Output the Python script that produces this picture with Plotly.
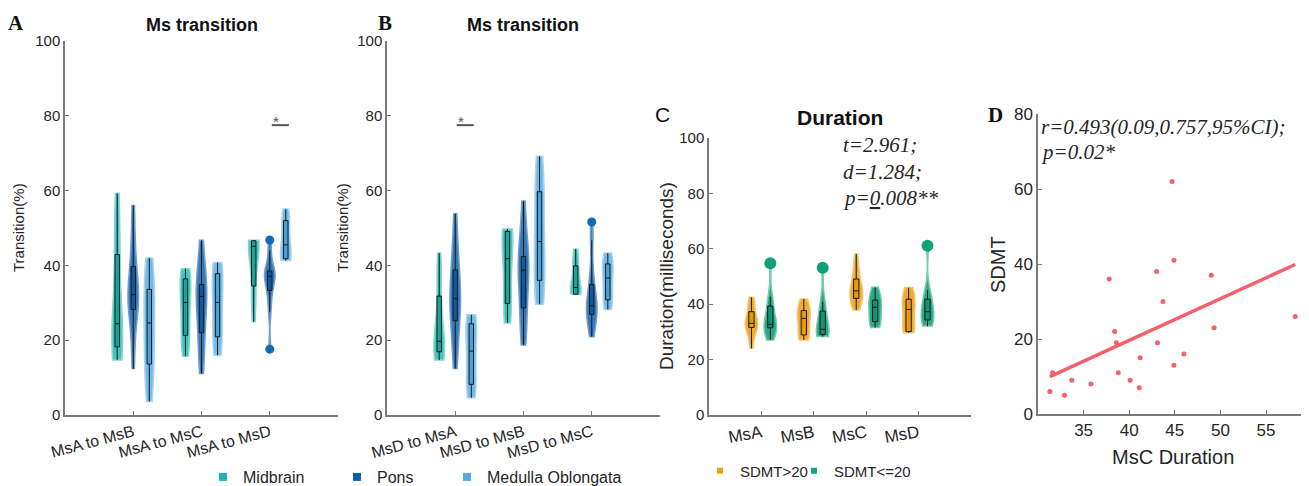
import numpy as np
import plotly.graph_objects as go

W, H = 1309, 486
# the page body adds an 8px margin; reference pixel coords are shifted by it
OFF = 8
SANS = "Liberation Sans, Arial, sans-serif"
SERIF = "Liberation Serif, Times New Roman, serif"

# ---------------- data ----------------
A_categories = ["MsA to MsB", "MsA to MsC", "MsA to MsD"]
B_categories = ["MsD to MsA", "MsD to MsB", "MsD to MsC"]
C_categories = ["MsA", "MsB", "MsC", "MsD"]
region_names = ["Midbrain", "Pons", "Medulla Oblongata"]
group_names = ["SDMT>20", "SDMT<=20"]

# Panel A: transitions from MsA (%), one list per violin
A_midbrain_MsB = [14.7, 15.5, 17.0, 18.2, 20.0, 22.5, 24.4, 27.0, 35.0, 42.9, 48.0, 54.0, 59.3]
A_pons_MsB = [12.4, 20.0, 26.0, 28.2, 30.0, 31.5, 32.2, 33.5, 36.0, 39.7, 43.0, 49.0, 56.0]
A_medulla_MsB = [3.6, 7.0, 10.5, 13.6, 17.5, 21.0, 24.6, 27.5, 30.5, 33.6, 36.5, 39.5, 42.0]
A_midbrain_MsC = [15.7, 17.5, 19.5, 21.3, 24.5, 27.5, 30.1, 32.5, 34.5, 36.4, 37.5, 38.3, 39.1]
A_pons_MsC = [11.1, 15.0, 19.0, 22.0, 26.0, 29.5, 31.7, 32.5, 33.5, 34.9, 37.5, 42.0, 46.7]
A_medulla_MsC = [16.0, 17.5, 19.2, 20.9, 24.0, 27.0, 30.1, 32.5, 35.0, 37.8, 38.8, 39.8, 40.8]
A_midbrain_MsD = [24.9, 29.0, 32.0, 34.5, 40.0, 44.0, 45.1, 45.6, 46.2, 46.6, 46.6, 46.7, 46.7]
A_pons_MsD = [17.6, 27.5, 31.0, 33.3, 35.0, 36.5, 37.1, 37.6, 38.0, 38.5, 40.0, 44.0, 46.8]
A_medulla_MsD = [41.3, 41.5, 41.6, 41.8, 43.0, 44.5, 45.5, 47.5, 50.0, 52.0, 53.0, 54.0, 55.1]

# Panel B: transitions from MsD (%)
B_midbrain_MsA = [14.7, 15.8, 16.5, 16.9, 18.0, 19.0, 19.7, 20.5, 22.5, 31.8, 36.0, 40.0, 43.3]
B_pons_MsA = [12.4, 17.0, 22.0, 25.2, 28.0, 30.0, 31.1, 33.0, 36.0, 38.8, 42.0, 47.0, 53.8]
B_medulla_MsA = [4.6, 5.8, 7.0, 8.2, 11.0, 14.0, 17.1, 19.5, 22.0, 24.4, 25.2, 26.0, 26.8]
B_midbrain_MsB = [24.6, 26.5, 28.0, 29.8, 34.0, 38.0, 41.8, 44.5, 47.0, 49.1, 49.3, 49.5, 49.7]
B_pons_MsB = [18.7, 22.0, 25.5, 28.6, 33.0, 37.0, 38.7, 40.0, 41.2, 42.4, 46.0, 51.0, 57.2]
B_medulla_MsB = [29.6, 31.8, 34.0, 36.0, 39.5, 43.0, 46.4, 51.0, 55.5, 59.7, 62.8, 66.0, 69.2]
B_midbrain_MsC = [32.3, 32.3, 32.3, 32.3, 33.0, 33.6, 34.1, 36.0, 38.0, 39.9, 41.3, 42.8, 44.4]
B_pons_MsC = [20.9, 23.5, 25.5, 26.9, 28.0, 28.7, 29.2, 30.5, 32.5, 34.9, 38.5, 46.7, 51.6]
B_medulla_MsC = [28.2, 29.0, 29.9, 30.8, 32.8, 34.7, 36.6, 38.0, 39.2, 40.4, 41.4, 42.3, 43.3]

# Panel C: microstate duration (ms)
C_high_MsA = [24.1, 27.5, 30.0, 31.6, 32.3, 32.8, 33.1, 33.6, 35.0, 37.3, 39.0, 41.0, 42.5]
C_low_MsA = [27.1, 29.0, 30.5, 31.5, 32.0, 32.4, 32.7, 33.5, 36.0, 39.3, 40.5, 42.7, 54.8]
C_high_MsB = [27.1, 27.7, 28.3, 28.9, 31.0, 33.0, 34.9, 35.8, 36.8, 37.7, 39.0, 40.5, 41.9]
C_low_MsB = [28.3, 28.6, 28.8, 29.1, 29.7, 30.3, 30.9, 32.5, 35.0, 37.5, 39.0, 40.9, 53.2]
C_high_MsC = [37.9, 39.5, 41.0, 42.1, 43.0, 44.0, 44.8, 45.8, 47.3, 49.1, 51.5, 54.5, 58.1]
C_low_MsC = [31.6, 32.3, 33.0, 33.7, 35.5, 37.2, 38.9, 39.7, 40.6, 41.5, 43.0, 44.5, 46.1]
C_high_MsD = [29.7, 29.8, 30.0, 30.1, 33.0, 35.5, 38.1, 39.3, 40.5, 41.8, 43.2, 44.6, 46.0]
C_low_MsD = [32.1, 32.8, 33.5, 34.3, 35.3, 36.3, 37.3, 38.8, 40.3, 41.8, 43.0, 45.1, 61.1]

# Panel D: MsC duration vs SDMT
D_msc_duration = [31.3, 31.6, 32.9, 33.7, 35.8, 37.8, 38.4, 38.6, 38.8, 40.1, 41.2,
                  41.1, 43.0, 43.1, 43.7, 44.9, 44.9, 46.0, 49.0, 49.3, 58.2, 44.7]
D_sdmt = [6, 11, 5, 9, 8, 36, 22, 19, 11, 9, 15, 7, 38, 19, 30, 41, 13, 16, 37, 23, 26, 62]

# ---------------- styles ----------------
REG = {
    "Midbrain": dict(solid="#1FB5AC", fill="rgba(35,186,176,0.85)", line="#86D7D0", box="#17A59C", leg="#1DB4B0"),
    "Pons": dict(solid="#1469BA", fill="rgba(20,96,170,0.85)", line="#6F9FD2", box="#0C5AA2", leg="#0B5EA8"),
    "Medulla Oblongata": dict(solid="#55AEE4", fill="rgba(92,176,228,0.85)", line="#A8D4F2", box="#4AA2DA", leg="#50ACE4"),
}
GRP = {
    "SDMT>20": dict(solid="#EEA21B", fill="rgba(238,163,27,0.90)", line="#F4C56E", box="#E89A10", leg="#EDA415"),
    "SDMT<=20": dict(solid="#12A07A", fill="rgba(18,160,122,0.90)", line="#74CBAE", box="#0F946F", leg="#13A57B"),
}
AXC = "#7a7a7a"
TXT = "#262626"


def px(x):
    return (x - OFF) / W


def py(y):
    return 1 - (y - OFF) / H


fig = go.Figure()


def add_violin(vals, pos, sty, xa, ya, width, msize):
    fig.add_trace(go.Violin(
        y=vals, x0=pos, xaxis=xa, yaxis=ya, showlegend=False,
        width=width, spanmode="hard", scalemode="width",
        line=dict(color=sty["line"], width=1.5), fillcolor=sty["fill"],
        box=dict(visible=True, width=0.42, fillcolor=sty["box"],
                 line=dict(color="#1a1a1a", width=1)),
        meanline=dict(visible=False), points="outliers", pointpos=0, jitter=0,
        marker=dict(color=sty["solid"], size=msize, line=dict(width=0)),
        quartilemethod="inclusive", hoverinfo="y",
    ))


A_sets = [[A_midbrain_MsB, A_pons_MsB, A_medulla_MsB],
          [A_midbrain_MsC, A_pons_MsC, A_medulla_MsC],
          [A_midbrain_MsD, A_pons_MsD, A_medulla_MsD]]
B_sets = [[B_midbrain_MsA, B_pons_MsA, B_medulla_MsA],
          [B_midbrain_MsB, B_pons_MsB, B_medulla_MsB],
          [B_midbrain_MsC, B_pons_MsC, B_medulla_MsC]]
C_sets = [[C_high_MsA, C_low_MsA], [C_high_MsB, C_low_MsB],
          [C_high_MsC, C_low_MsC], [C_high_MsD, C_low_MsD]]

reg_offsets = [-0.235, 0.0, 0.235]
grp_offsets = [-0.19, 0.17]

for ci, trip in enumerate(A_sets):
    for ri, vals in enumerate(trip):
        add_violin(vals, ci + 1 + reg_offsets[ri], REG[region_names[ri]], "x", "y", 0.155, 9)
for ci, trip in enumerate(B_sets):
    for ri, vals in enumerate(trip):
        add_violin(vals, ci + 1 + reg_offsets[ri], REG[region_names[ri]], "x2", "y2", 0.155, 9)
for ci, pair in enumerate(C_sets):
    for gi, vals in enumerate(pair):
        add_violin(vals, ci + 1 + grp_offsets[gi], GRP[group_names[gi]], "x3", "y3", 0.24, 12)

# Panel D scatter + least-squares line
dx = np.array(D_msc_duration)
dy = np.array(D_sdmt)
slope, intercept = np.polyfit(dx, dy, 1)
xl = np.array([dx.min(), dx.max()])
fig.add_trace(go.Scatter(x=dx, y=dy, mode="markers", xaxis="x4", yaxis="y4", showlegend=False,
                         marker=dict(color="#F5606D", size=5)))
fig.add_trace(go.Scatter(x=xl, y=slope * xl + intercept, mode="lines", xaxis="x4", yaxis="y4",
                         showlegend=False, line=dict(color="#F5606D", width=3.5)))

# legend entries (square markers)
leg_specs = [
    ("legend", region_names[0], REG["Midbrain"]["leg"], 243, 477, 16, 8),
    ("legend2", region_names[1], REG["Pons"]["leg"], 377, 477, 16, 8),
    ("legend3", region_names[2], REG["Medulla Oblongata"]["leg"], 487, 477, 16, 8),
    ("legend4", group_names[0], GRP["SDMT>20"]["leg"], 740, 471, 15, 6),
    ("legend5", group_names[1], GRP["SDMT<=20"]["leg"], 834, 471, 15, 6),
]
legend_layout = {}
for lg, name, col, tx, ty, fs, ms in leg_specs:
    fig.add_trace(go.Scatter(x=[None], y=[None], mode="markers", name=name, legend=lg,
                             marker=dict(symbol="square", color=col, size=ms), xaxis="x", yaxis="y"))
    legend_layout[lg] = dict(x=px(tx - 40), xanchor="left", y=py(ty), yanchor="middle",
                             bgcolor="rgba(0,0,0,0)", borderwidth=0, itemwidth=30,
                             font=dict(family=SANS, size=fs, color=TXT), tracegroupgap=0)

# ---------------- axes ----------------
def axis_common(**kw):
    d = dict(showline=True, linecolor=AXC, linewidth=1.5, ticks="inside", ticklen=4,
             tickcolor=AXC, tickwidth=1, showgrid=False, zeroline=False, automargin=False,
             tickfont=dict(family=SANS, size=15, color=TXT))
    d.update(kw)
    return d


ydom_AB = [py(415), py(41)]
layout = dict(
    width=W, height=H, margin=dict(l=0, r=0, t=0, b=0, autoexpand=False),
    paper_bgcolor="white", plot_bgcolor="white", violinmode="overlay",
    xaxis=axis_common(domain=[px(65), px(338)], range=[0, 4], tickvals=[1, 2, 3],
                      ticktext=A_categories, tickangle=-15, anchor="y", type="linear",
                      tickfont=dict(family=SANS, size=16, color=TXT)),
    yaxis=axis_common(domain=ydom_AB, range=[0, 100], tickvals=[0, 20, 40, 60, 80, 100], anchor="x"),
    xaxis2=axis_common(domain=[px(387), px(660)], range=[0, 4], tickvals=[1, 2, 3],
                       ticktext=B_categories, tickangle=-15, anchor="y2", type="linear",
                       tickfont=dict(family=SANS, size=16, color=TXT)),
    yaxis2=axis_common(domain=ydom_AB, range=[0, 100], tickvals=[0, 20, 40, 60, 80, 100], anchor="x2"),
    xaxis3=axis_common(domain=[px(709), px(971)], range=[0, 5], tickvals=[1, 2, 3, 4],
                       ticktext=C_categories, tickangle=-10, anchor="y3", type="linear",
                       tickfont=dict(family=SANS, size=17, color=TXT)),
    yaxis3=axis_common(domain=[py(415), py(138)], range=[0, 100], tickvals=[0, 20, 40, 60, 80, 100], anchor="x3"),
    xaxis4=axis_common(domain=[px(1038), px(1308)], range=[30, 59.6], tickvals=[35, 40, 45, 50, 55],
                       anchor="y4", tickfont=dict(family=SANS, size=17, color=TXT)),
    yaxis4=axis_common(domain=[py(414), py(114)], range=[0, 80], tickvals=[0, 20, 40, 60, 80], anchor="x4",
                       tickfont=dict(family=SANS, size=17, color=TXT)),
    showlegend=True,
)
layout.update(legend_layout)
fig.update_layout(**layout)

# ---------------- text ----------------
ann = []


def text(x, y, s, size, family=SANS, color=TXT, angle=0, xanchor="center", bold=False):
    ann.append(dict(x=px(x), y=py(y), xref="paper", yref="paper", text=("<b>%s</b>" % s) if bold else s,
                    showarrow=False, xanchor=xanchor, yanchor="middle", textangle=angle,
                    font=dict(family=family, size=size, color=color)))


# panel letters
text(16, 23, "A", 21, family=SERIF, color="#111", bold=True)
text(385, 23, "B", 21, family=SERIF, color="#111", bold=True)
text(662, 115, "C", 21, family=SANS, color="#111")
text(995, 115, "D", 21, family=SERIF, color="#111", bold=True)
# titles
text(202, 25, "Ms transition", 18, color="#111", bold=True)
text(523, 25, "Ms transition", 18, color="#111", bold=True)
text(840, 118, "Duration", 21, color="#111", bold=True)
# axis titles
text(19, 228, "Transition(%)", 15, angle=-90)
text(343, 228, "Transition(%)", 15, angle=-90)
text(666, 276, "Duration(milliseconds)", 19, angle=-90)
text(998, 265, "SDMT", 20, angle=-90)
text(1173, 457, "MsC Duration", 20)
# statistics
text(841, 145, "<i>t=2.961;</i>", 21, family=SERIF, xanchor="left")
text(841, 172, "<i>d=1.284;</i>", 21, family=SERIF, xanchor="left")
text(841, 198, "<i>p=<u>0</u>.008**</i>", 21, family=SERIF, xanchor="left")
text(1039, 127, "<i>r=0.493(0.09,0.757,95%CI);</i>", 21, family=SERIF, xanchor="left")
text(1039, 152, "<i>p=0.02*</i>", 21, family=SERIF, xanchor="left")

# significance markers (data coordinates of panels A and B)
for xr, yr, x0 in [("x", "y", 3.0), ("x2", "y2", 1.0)]:
    ann.append(dict(x=x0 + 0.09, y=78.6, xref=xr, yref=yr, text="*", showarrow=False,
                    yanchor="middle", font=dict(family=SANS, size=15, color="#555")))

fig.update_layout(annotations=ann)
fig.add_shape(type="line", xref="x", yref="y", x0=3.03, x1=3.28, y0=77.5, y1=77.5,
              line=dict(color="#555", width=2))
fig.add_shape(type="line", xref="x2", yref="y2", x0=1.02, x1=1.27, y0=77.5, y1=77.5,
              line=dict(color="#555", width=2))

fig.write_html("out.html")
